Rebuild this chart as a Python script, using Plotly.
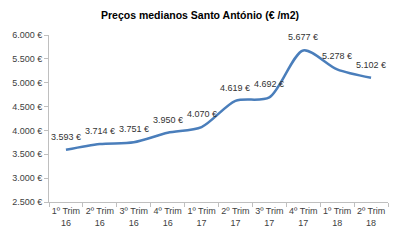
import plotly.graph_objects as go

categories = ["1º Trim<br>16", "2º Trim<br>16", "3º Trim<br>16", "4º Trim<br>16", "1º Trim<br>17",
              "2º Trim<br>17", "3º Trim<br>17", "4º Trim<br>17", "1º Trim<br>18", "2º Trim<br>18"]
values = [3593, 3714, 3751, 3950, 4070, 4619, 4692, 5677, 5278, 5102]
y_ticks = [2500, 3000, 3500, 4000, 4500, 5000, 5500, 6000]

def fmt(v):
    return f"{v:,.0f}".replace(",", ".") + " €"

fig = go.Figure()
fig.add_trace(go.Scatter(
    x=categories, y=values, mode="lines",
    line=dict(color="#4a7ebb", width=2.5, shape="spline", smoothing=0.8),
    hoverinfo="skip",
))
for c, v in zip(categories, values):
    fig.add_annotation(x=c, y=v, text=fmt(v), showarrow=False, yshift=13,
                       font=dict(family="Liberation Sans, Arial", size=9, color="#333333"))
fig.update_layout(
    width=400, height=240,
    margin=dict(l=45, r=12, t=35, b=33),
    paper_bgcolor="white", plot_bgcolor="white",
    showlegend=False,
    title=dict(text="<b>Preços medianos Santo António (€ /m2)</b>", x=0.5, xanchor="center",
               y=0.935, yanchor="middle",
               font=dict(family="Liberation Sans, Arial", size=10.5, color="#000000")),
    font=dict(family="Liberation Sans, Arial", size=9, color="#404040"),
)
fig.update_xaxes(
    type="category", showgrid=False, showline=True, linecolor="#bfbfbf", linewidth=1,
    ticks="outside", tickson="boundaries", ticklen=4, tickcolor="#bfbfbf", tickangle=0,
    tickfont=dict(size=9, color="#404040"), range=[-0.5, 9.5],
)
fig.update_yaxes(
    range=[2500, 6000], showgrid=False, showline=True, linecolor="#bfbfbf", linewidth=1,
    ticks="outside", ticklen=4, tickcolor="#bfbfbf", zeroline=False,
    tickvals=y_ticks, ticktext=[fmt(v) for v in y_ticks],
    tickfont=dict(size=9, color="#404040"),
)
fig.write_html("out.html")
